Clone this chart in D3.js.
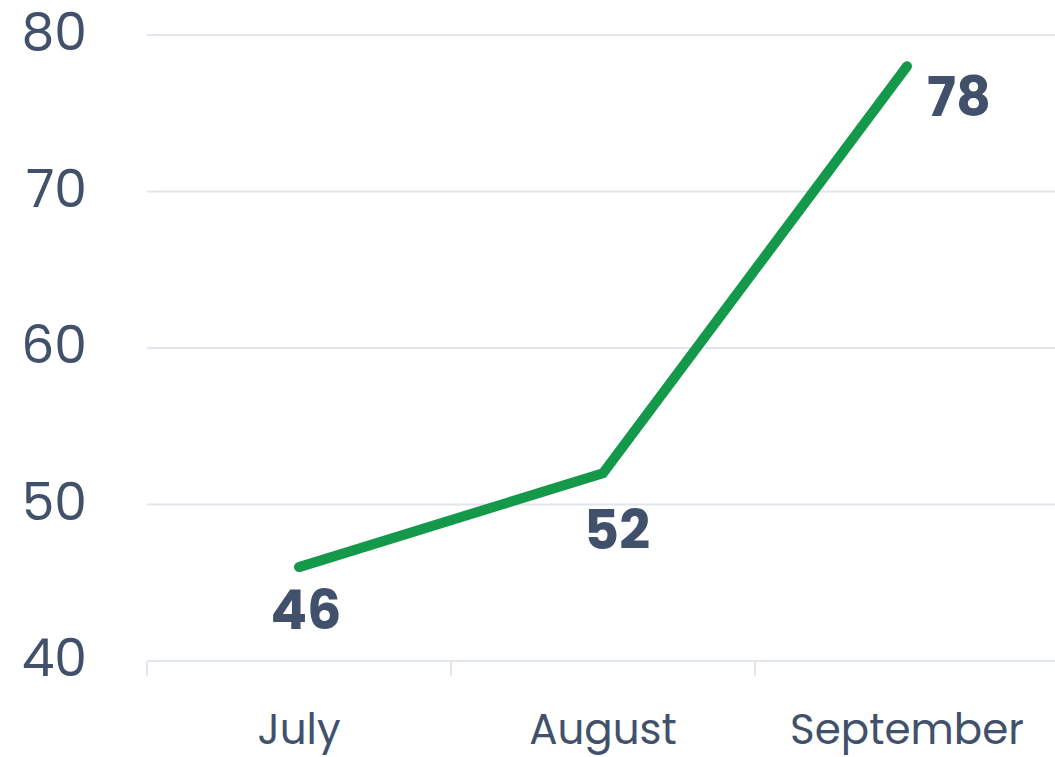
<!DOCTYPE html>
<html><head><meta charset="utf-8">
<script src="https://cdn.jsdelivr.net/npm/d3@7"></script>
<style>body{margin:0;background:#fff}svg{display:block}</style>
</head><body>
<script>
const categories = ["July", "August", "September"];
const values = [46, 52, 78];
const yTicks = [40, 50, 60, 70, 80];

const W = 1055, H = 757;
const svg = d3.select("body").append("svg").attr("width", W).attr("height", H);
const font = "Poppins, Inter, 'Open Sans', sans-serif";
const textColor = "#42516b";
const gridColor = "#e2e6ee";

const x = d3.scaleBand().domain(categories).range([147, 1059]).padding(0);
const y = d3.scaleLinear().domain([40, 80]).range([661, 35]);

// grid
svg.append("g").selectAll("line").data(yTicks).join("line")
  .attr("x1", 147).attr("x2", W)
  .attr("y1", d => y(d)).attr("y2", d => y(d))
  .attr("stroke", gridColor).attr("stroke-width", 2);

// x axis ticks
const xa = svg.append("g").attr("transform", `translate(0,${y(40)})`)
  .call(d3.axisBottom(x).tickSize(0).tickPadding(0));
xa.select(".domain").remove();
xa.selectAll("text").attr("y", 83).attr("dy", 0)
  .attr("font-family", font).attr("font-size", 42).attr("fill", textColor);
const bounds = categories.map(c => x(c)).concat([x.range()[1]]);
svg.append("g").selectAll("line").data(bounds).join("line")
  .attr("x1", d => d).attr("x2", d => d)
  .attr("y1", y(40)).attr("y2", y(40) + 15)
  .attr("stroke", gridColor).attr("stroke-width", 2);

// y axis
const ya = svg.append("g").attr("transform", "translate(87,0)")
  .call(d3.axisLeft(y).tickValues(yTicks).tickSize(0).tickPadding(0));
ya.select(".domain").remove();
ya.selectAll("text").attr("dy", "0.32em").attr("y", -2)
  .attr("font-family", font).attr("font-size", 52).attr("fill", textColor);

// line
const pts = categories.map((c, i) => ({c, v: values[i]}));
svg.append("path").datum(pts)
  .attr("d", d3.line().x(d => x(d.c) + x.bandwidth() / 2).y(d => y(d.v)))
  .attr("fill", "none").attr("stroke", "#14994a").attr("stroke-width", 10)
  .attr("stroke-linecap", "round").attr("stroke-linejoin", "miter");

// labels
const last = pts.length - 1;
svg.append("g").selectAll("text").data(pts).join("text")
  .attr("x", (d, i) => x(d.c) + x.bandwidth() / 2 + (i === last ? 20 : i === 0 ? 7 : 14))
  .attr("y", (d, i) => y(d.v) + (i === last ? 50 : i === 0 ? 62 : 76))
  .attr("text-anchor", (d, i) => i === last ? "start" : "middle")
  .attr("font-family", font).attr("font-weight", 700).attr("font-size", 54)
  .attr("fill", textColor).text(d => d.v);
</script>
</body></html>
